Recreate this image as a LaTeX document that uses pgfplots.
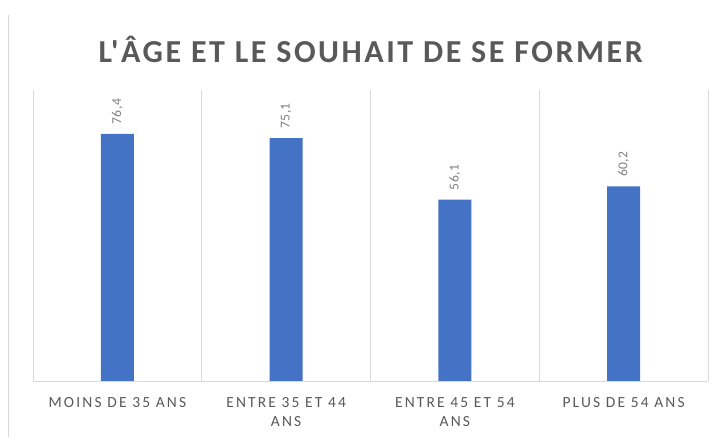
\documentclass[border=0pt]{standalone}
\usepackage{fontspec}
\setmainfont{Carlito}
\newfontfamily\titlefont[LetterSpace=8]{Carlito}
\newfontfamily\tickfont[LetterSpace=14]{Carlito}
\newfontfamily\labfont[LetterSpace=3]{Carlito}
\usepackage{pgfplots}
\pgfplotsset{compat=1.18}
\definecolor{barblue}{HTML}{4472C4}
\definecolor{txtgray}{HTML}{595959}
\definecolor{labgray}{HTML}{808080}
\definecolor{gridgray}{HTML}{D9D9D9}
\begin{document}
\begin{tikzpicture}
\useasboundingbox (0pt,0pt) rectangle (537.75pt,327.75pt);
\draw[gridgray,line width=0.75pt] (6pt,0pt) -- (6pt,316.5pt);
\node[text=txtgray,font=\titlefont\bfseries\fontsize{24}{28}\selectfont] at (278pt,291pt) {L'ÂGE ET LE SOUHAIT DE SE FORMER};
\begin{axis}[
  at={(24.75pt,42pt)}, anchor=south west,
  scale only axis, width=506.25pt, height=218.25pt,
  xmin=-0.5, xmax=3.5, ymin=0, ymax=90,
  ybar, bar width=24.75pt,
  xtick={0,1,2,3},
  xticklabels={MOINS DE 35 ANS, {ENTRE 35 ET 44\\ANS}, {ENTRE 45 ET 54\\ANS}, PLUS DE 54 ANS},
  xticklabel style={align=center, text=txtgray, font=\tickfont\fontsize{11.6}{14.3}\selectfont, yshift=-9pt},
  major tick length=0pt, minor tick length=0pt,
  minor xtick={-0.5,0.5,1.5,2.5,3.5},
  xminorgrids, minor grid style={gridgray, line width=0.75pt},
  ytick=\empty,
  axis line style={draw=none},
  nodes near coords,
  nodes near coords style={rotate=90, anchor=west, text=labgray, font=\labfont\fontsize{10.2}{12}\selectfont, inner xsep=7pt},
  /pgf/number format/.cd, use comma, fixed, precision=1, fixed zerofill, assume math mode=true,
]
\addplot[fill=barblue, draw=none] coordinates {(0,76.4) (1,75.1) (2,56.1) (3,60.2)};
\draw[gridgray, line width=0.75pt] (axis cs:-0.5,0) -- (axis cs:3.5,0);
\end{axis}
\end{tikzpicture}
\end{document}
